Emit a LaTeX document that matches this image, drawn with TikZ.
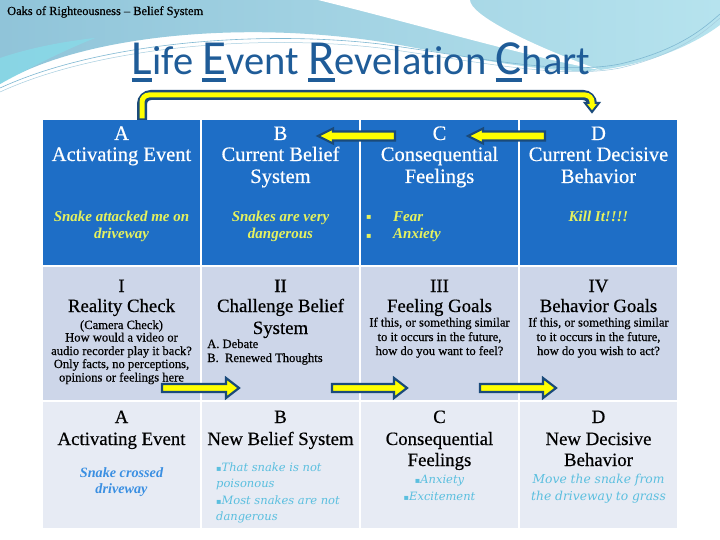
\documentclass[tikz,border=0pt]{standalone}
\usepackage{fontspec}
\setmainfont{Liberation Serif}
\newfontfamily\headfont[FakeBold=0.5]{Liberation Serif}
\newfontfamily\titlefont[Ligatures=NoCommon]{Carlito}
\newfontfamily\djs{DejaVu Serif}
\newfontfamily\djsans{DejaVu Sans}
\usetikzlibrary{calc}
\definecolor{hdblue}{HTML}{1E6EC6}
\definecolor{rowtwo}{HTML}{CDD6E9}
\definecolor{rowthree}{HTML}{E7EBF4}
\definecolor{navy}{HTML}{1A4A7A}
\definecolor{arrowyellow}{HTML}{FFFF00}
\definecolor{titleblue}{HTML}{1F5C98}
\definecolor{ytext}{HTML}{E6F25E}
\definecolor{ctext}{HTML}{5BBFDF}
\definecolor{btext}{HTML}{3A8FE2}
\definecolor{bgleft}{HTML}{90C4D9}
\definecolor{bgright}{HTML}{B6E3EE}
\definecolor{bgcyan}{HTML}{86DDEA}
\definecolor{bgline}{HTML}{7FB8D2}
\newcommand\ucap[1]{\setbox0\hbox{#1}\rlap{\rule[-7.5pt]{\wd0}{4pt}}\box0}
\newcommand\titlecap[1]{\ucap{\fontsize{49}{49}\selectfont #1}}
\newcommand\sqb{{\djsans\fontsize{8}{8}\selectfont ▪}}
\newcommand\lblockarrow[4]{% name, tip x, tail x, y
  \coordinate (#1tip) at (#2,#4);
  \coordinate (#1tail) at (#3,#4);
  \filldraw[blockarrow] ($(#1tail)+(0,-4.5)$) -- ($(#1tip)+(15,-4.5)$) -- ($(#1tip)+(15,-7.5)$)
     -- (#1tip) -- ($(#1tip)+(15,7.5)$) -- ($(#1tip)+(15,4.5)$) -- ($(#1tail)+(0,4.5)$) -- cycle;}
\newcommand\rblockarrow[4]{% name, tail x, tip x, y
  \coordinate (#1tail) at (#2,#4);
  \coordinate (#1tip) at (#3,#4);
  \filldraw[blockarrow] ($(#1tail)+(0,-4)$) -- ($(#1tip)+(-13,-4)$) -- ($(#1tip)+(-13,-10)$)
     -- (#1tip) -- ($(#1tip)+(-13,10)$) -- ($(#1tip)+(-13,4)$) -- ($(#1tail)+(0,4)$) -- cycle;}
\tikzset{
  cell/.style={inner sep=0, outer sep=0, draw=none},
  blockarrow/.style={fill=arrowyellow, draw=navy, line width=2.2pt, line join=miter},
  hone/.style={font=\headfont\fontsize{20.5}{24}\selectfont, text=white, anchor=base, inner sep=0},
  htwo/.style={font=\headfont\fontsize{18.8}{22}\selectfont, text=black, anchor=base, inner sep=0},
  smalltxt/.style={font=\headfont\fontsize{12.6}{14}\selectfont, text=black, anchor=base, inner sep=0},
  ylw/.style={font=\bfseries\itshape\fontsize{15}{17}\selectfont, text=ytext, anchor=base, inner sep=0},
  cyn/.style={font=\djs\itshape\fontsize{11.5}{14}\selectfont, text=ctext, anchor=base, inner sep=0},
  cynbig/.style={font=\djs\itshape\fontsize{12.3}{14}\selectfont, text=ctext, anchor=base, inner sep=0},
  blu/.style={font=\bfseries\itshape\fontsize{14.2}{16}\selectfont, text=btext, anchor=base, inner sep=0},
}
\begin{document}
\begin{tikzpicture}[x=1pt,y=-1pt]
\useasboundingbox (0,0) rectangle (720,540);
\fill[white] (0,0) rectangle (720,540);
% background swooshes
\shade[left color=bgleft, right color=bgright] (0,0) -- (720,0) -- (720,25)
  .. controls (700,40) and (660,62) .. (600,70)
  .. controls (560,75) and (480,60) .. (400,45)
  .. controls (250,18) and (80,35) .. (0,84) -- cycle;
\fill[bgcyan, opacity=0.7] (0,58) .. controls (30,48) and (60,42) .. (95,38)
  .. controls (60,52) and (30,68) .. (0,84) -- cycle;
\fill[white] (318,0) .. controls (420,25) and (520,55) .. (600,70)
  .. controls (530,45) and (470,15) .. (470,0) -- cycle;
\draw[bgline, line width=0.6pt] (0,88) .. controls (100,42) and (260,30) .. (380,44)
  .. controls (470,56) and (560,76) .. (620,64) .. controls (680,50) and (705,27) .. (720,14);
\draw[bgline!70!white, line width=0.5pt] (0,92) .. controls (100,46) and (260,34) .. (380,48)
  .. controls (470,60) and (560,80) .. (620,68) .. controls (680,54) and (705,31) .. (720,18);

% header texts
\node[anchor=base west, inner sep=0, font=\headfont\fontsize{12.4}{12}\selectfont, text=black] (oaks) at (7,15) {Oaks of Righteousness – Belief System};
\node[anchor=base, inner sep=0, font=\titlefont\fontsize{40.5}{41}\selectfont, text=titleblue] (ttl) at (361,75)
  {\titlecap{L}ife \titlecap{E}vent \titlecap{R}evelation \titlecap{C}hart};

% cells
\node[cell, fill=hdblue, minimum width=157pt, minimum height=145pt] (cA1) at (121.5,192.5) {};
\node[cell, fill=hdblue, minimum width=157pt, minimum height=145pt] (cB1) at (280.5,192.5) {};
\node[cell, fill=hdblue, minimum width=157pt, minimum height=145pt] (cC1) at (439.5,192.5) {};
\node[cell, fill=hdblue, minimum width=157pt, minimum height=145pt] (cD1) at (598.5,192.5) {};
\node[cell, fill=rowtwo, minimum width=157pt, minimum height=133pt] (cA2) at (121.5,333.5) {};
\node[cell, fill=rowtwo, minimum width=157pt, minimum height=133pt] (cB2) at (280.5,333.5) {};
\node[cell, fill=rowtwo, minimum width=157pt, minimum height=133pt] (cC2) at (439.5,333.5) {};
\node[cell, fill=rowtwo, minimum width=157pt, minimum height=133pt] (cD2) at (598.5,333.5) {};
\node[cell, fill=rowthree, minimum width=157pt, minimum height=126pt] (cA3) at (121.5,465) {};
\node[cell, fill=rowthree, minimum width=157pt, minimum height=126pt] (cB3) at (280.5,465) {};
\node[cell, fill=rowthree, minimum width=157pt, minimum height=126pt] (cC3) at (439.5,465) {};
\node[cell, fill=rowthree, minimum width=157pt, minimum height=126pt] (cD3) at (598.5,465) {};

% row 1 text
\node[hone] (a1l) at (121.5,140) {A};
\node[hone] (a1t) at (121.5,161) {Activating Event};
\node[ylw] (a1x) at (121.5,222) {Snake attacked me on};
\node[ylw] (a1y) at (121.5,239) {driveway};
\node[hone] (b1l) at (280.5,140) {B};
\node[hone] (b1t) at (280.5,161) {Current Belief};
\node[hone] (b1u) at (280.5,183) {System};
\node[ylw] (b1x) at (280.5,222) {Snakes are very};
\node[ylw] (b1y) at (280.5,239) {dangerous};
\node[hone] (c1l) at (439.5,140) {C};
\node[hone] (c1t) at (439.5,161) {Consequential};
\node[hone] (c1u) at (439.5,183) {Feelings};
\node[anchor=base west, inner sep=0, text=ytext] (c1b1) at (366,220) {\sqb};
\node[anchor=base west, inner sep=0, text=ytext] (c1b2) at (366,238) {\sqb};
\node[ylw, anchor=base west] (c1x) at (393,222) {Fear};
\node[ylw, anchor=base west] (c1y) at (393,239) {Anxiety};
\node[hone] (d1l) at (598.5,140) {D};
\node[hone] (d1t) at (598.5,161) {Current Decisive};
\node[hone] (d1u) at (598.5,183) {Behavior};
\node[ylw] (d1x) at (598.5,222) {Kill It!!!!};

% row 2 text
\node[htwo] (a2l) at (121.5,292) {I};
\node[htwo] (a2t) at (121.5,312) {Reality Check};
\node[smalltxt] (a2a) at (121.5,329) {(Camera Check)};
\node[smalltxt] (a2b) at (121.5,341.5) {How would a video or};
\node[smalltxt] (a2c) at (121.5,355) {audio recorder play it back?};
\node[smalltxt] (a2d) at (121.5,368) {Only facts, no perceptions,};
\node[smalltxt] (a2e) at (121.5,381.5) {opinions or feelings here};
\node[htwo] (b2l) at (280.5,292) {II};
\node[htwo] (b2t) at (280.5,312) {Challenge Belief};
\node[htwo] (b2u) at (280.5,334) {System};
\node[smalltxt, anchor=base west] (b2a) at (207,348) {A. Debate};
\node[smalltxt, anchor=base west] (b2b) at (207,362) {B.\ \ Renewed Thoughts};
\node[htwo] (c2l) at (439.5,292) {III};
\node[htwo] (c2t) at (439.5,312) {Feeling Goals};
\node[smalltxt] (c2a) at (439.5,326.5) {If this, or something similar};
\node[smalltxt] (c2b) at (439.5,341) {to it occurs in the future,};
\node[smalltxt] (c2c) at (439.5,355) {how do you want to feel?};
\node[htwo] (d2l) at (598.5,292) {IV};
\node[htwo] (d2t) at (598.5,312) {Behavior Goals};
\node[smalltxt] (d2a) at (598.5,326.5) {If this, or something similar};
\node[smalltxt] (d2b) at (598.5,341) {to it occurs in the future,};
\node[smalltxt] (d2c) at (598.5,355) {how do you wish to act?};

% row 3 text
\node[htwo] (a3l) at (121.5,423) {A};
\node[htwo] (a3t) at (121.5,445) {Activating Event};
\node[blu] (a3x) at (121.5,477) {Snake crossed};
\node[blu] (a3y) at (121.5,493) {driveway};
\node[htwo] (b3l) at (280.5,423) {B};
\node[htwo] (b3t) at (280.5,445) {New Belief System};
\node[cyn, anchor=base west] (b3a) at (216,471) {\sqb That snake is not};
\node[cyn, anchor=base west] (b3b) at (216,487.5) {poisonous};
\node[cyn, anchor=base west] (b3c) at (216,504) {\sqb Most snakes are not};
\node[cyn, anchor=base west] (b3d) at (216,520) {dangerous};
\node[htwo] (c3l) at (439.5,423) {C};
\node[htwo] (c3t) at (439.5,445) {Consequential};
\node[htwo] (c3u) at (439.5,466) {Feelings};
\node[cyn] (c3a) at (439.5,483) {\sqb Anxiety};
\node[cyn] (c3b) at (439.5,500) {\sqb Excitement};
\node[htwo] (d3l) at (598.5,423) {D};
\node[htwo] (d3t) at (598.5,445) {New Decisive};
\node[htwo] (d3u) at (598.5,466) {Behavior};
\node[cynbig] (d3a) at (598.5,483) {Move the snake from};
\node[cynbig] (d3b) at (598.5,500) {the driveway to grass};

% top bent arrow
\coordinate (bstart) at (142,120);
\coordinate (bcornerA) at (142,95);
\coordinate (bcornerB) at (592,95);
\coordinate (bend) at (592,104);
\coordinate (btip) at (592,112);
\draw[navy, line width=10pt, rounded corners=9pt] (bstart) -- (bcornerA) -- (bcornerB) -- (bend);
\filldraw[fill=arrowyellow, draw=navy, line width=2pt, line join=miter]
  ($(bend)+(-7,-1)$) -- ($(bend)+(7,-1)$) -- (btip) -- cycle;
\draw[arrowyellow, line width=5pt, rounded corners=7pt] ($(bstart)+(0,-1.5)$) -- (bcornerA) -- (bcornerB) -- ($(bend)+(0,0.5)$);

% row 1 arrows (pointing left)
\lblockarrow{la}{318}{395}{136}
\lblockarrow{lb}{468}{545}{136}
% row 2 arrows (pointing right)
\rblockarrow{ra}{162}{239}{388}
\rblockarrow{rb}{332}{407}{388}
\rblockarrow{rc}{480}{556}{388}
\end{tikzpicture}
\end{document}
